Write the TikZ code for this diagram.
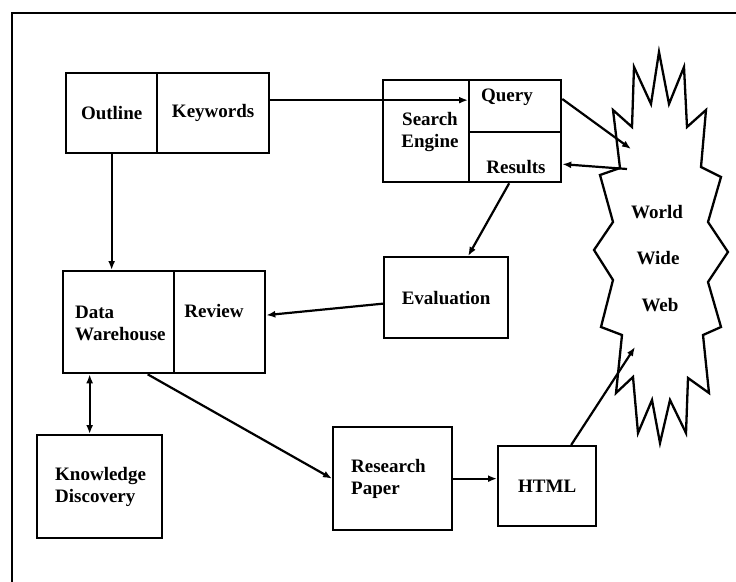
\documentclass[tikz,border=0pt]{standalone}
\usepackage{fontspec}
\setmainfont{Liberation Serif}
\usetikzlibrary{arrows.meta,calc}

\tikzset{
  box/.style={draw, line width=2.3pt, rectangle, inner sep=0pt, anchor=north west,
              font=\fontsize{19}{22}\selectfont\bfseries},
  lbl/.style={inner sep=0pt, font=\fontsize{19}{22}\selectfont\bfseries, align=left},
  arr/.style={line width=2.2pt, -{Latex[length=9pt,width=7pt]}},
  darr/.style={line width=2.2pt, {Latex[length=9pt,width=7pt]}-{Latex[length=9pt,width=7pt]}}
}

\begin{document}
\begin{tikzpicture}[x=1pt,y=-1pt]
\useasboundingbox (0,0) rectangle (736,581);

% outer frame (runs off the page to the right and bottom)
\draw[line width=2.5pt] (12,600) -- (12,13) -- (740,13);

% Outline | Keywords
\node[box, minimum width=91pt, minimum height=80pt] (outline) at (65,72) {Outline};
\node[box, minimum width=112pt, minimum height=80pt] (kw) at (156,72) {Keywords};

% Search engine block
\node[box, minimum width=86pt, minimum height=102pt] (se) at (382,79) {};
\node[box, minimum width=92pt, minimum height=52pt] (qry) at (468,79) {};
\node[box, minimum width=92pt, minimum height=50pt] (res) at (468,131) {};
\node[lbl, align=center] (setext) at (430,132) {Search\\Engine};
\node[lbl] (qtext) at (507,97) {Query};
\node[lbl] (rtext) at (516,167) {Results};

% Evaluation
\node[box, minimum width=124pt, minimum height=81pt] (eval) at (383,256) {Evaluation};

% Data Warehouse | Review
\node[box, minimum width=111pt, minimum height=102pt] (dw) at (62,270) {};
\node[box, minimum width=91pt, minimum height=102pt] (rev) at (173,270) {};
\node[lbl, anchor=west] (dwtext) at (75,323) {Data\\Warehouse};
\node[lbl] (revtext) at (214,311) {Review};

% Knowledge Discovery
\node[box, minimum width=125pt, minimum height=103pt] (kd) at (36,434) {};
\node[lbl, anchor=west] (kdtext) at (55,487) {Knowledge\\Discovery};

% Research Paper
\node[box, minimum width=119pt, minimum height=103pt] (rp) at (332,426) {};
\node[lbl, anchor=west] (rptext) at (351,479) {Research\\Paper};

% HTML
\node[box, minimum width=98pt, minimum height=80pt] (html) at (497,445) {HTML};

% World Wide Web starburst
\draw[line width=2.3pt, line join=miter]
  (659,52) -- (669,104) -- (684,67) -- (687,127) -- (706,110) -- (701,167)
  -- (721,177) -- (708,222) -- (728,252) -- (708,282) -- (721,327) -- (703,335)
  -- (709,393) -- (688,378) -- (686,433) -- (670,400) -- (660,443) -- (652,400)
  -- (638,433) -- (633,377) -- (616,393) -- (622,335) -- (601,327) -- (613,280)
  -- (594,250) -- (613,222) -- (600,175) -- (620,168) -- (613,110) -- (632,127)
  -- (634,67) -- (651,104) -- cycle;
\node[lbl] (world) at (657,212) {World};
\node[lbl] (wide) at (658,258) {Wide};
\node[lbl] (web) at (660,305) {Web};
\coordinate (wwwIn) at (631,149);
\coordinate (wwwOut) at (627,169);
\coordinate (wwwHtml) at (635,347);

% connectors
\draw[arr] ([yshift=13pt]kw.east) -- ([yshift=13pt]kw.east -| qry.west);
\draw[arr] ([yshift=-20pt]qry.north east) -- (wwwIn);
\draw[arr] (wwwOut) -- ([yshift=-7pt]res.east);
\draw[arr] ([xshift=-6pt]res.south) -- ([xshift=22pt]eval.north);
\draw[arr] ([yshift=-6pt]eval.west) -- ([yshift=7pt]rev.east);
\draw[arr] (outline.south) -- (outline.south |- dw.north);
\draw[darr] ([xshift=-10pt]kd.north) -- ([xshift=-10pt]kd.north |- dw.south);
\draw[arr] ([xshift=29pt]dw.south) -- (rp.west);
\draw[arr] (rp.east) -- (rp.east -| html.west);
\draw[arr] ([xshift=24pt]html.north) -- (wwwHtml);
\end{tikzpicture}
\end{document}
